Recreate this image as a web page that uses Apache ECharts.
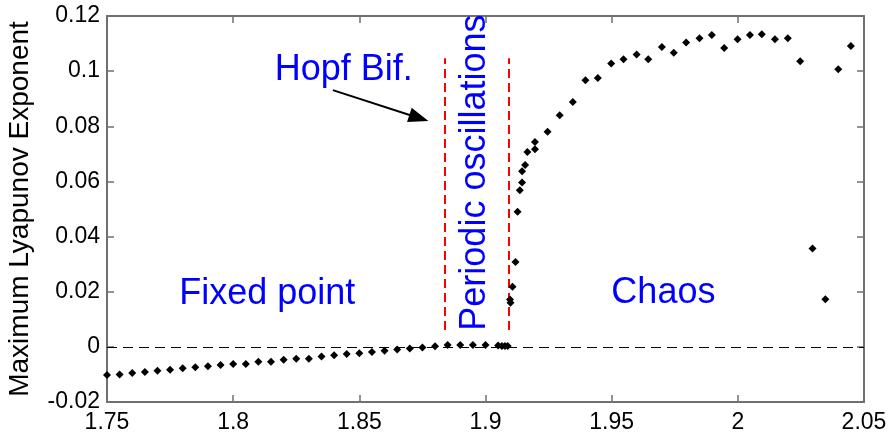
<!DOCTYPE html>
<html>
<head>
<meta charset="utf-8">
<script src="https://cdn.jsdelivr.net/npm/echarts@6/dist/echarts.min.js"></script>
<style>
  html, body { margin: 0; padding: 0; background: #fff; }
  #chart { width: 888px; height: 437px; }
</style>
</head>
<body>
<div id="chart"></div>
<script>
// bifurcation parameter and max Lyapunov exponent
const paramX = [
  1.750, 1.755, 1.760, 1.765, 1.770, 1.775, 1.780, 1.785, 1.790, 1.795,
  1.800, 1.805, 1.810, 1.815, 1.820, 1.825, 1.830, 1.835, 1.840, 1.845,
  1.850, 1.855, 1.860, 1.865, 1.870, 1.875, 1.880, 1.885, 1.890, 1.895,
  1.900, 1.905, 1.9065, 1.9077, 1.9088,
  1.9097, 1.9099, 1.9107, 1.9119, 1.9127, 1.9136, 1.9145, 1.9145, 1.9157, 1.9166,
  1.9196, 1.9196, 1.9246, 1.9294, 1.9346, 1.9396, 1.9445, 1.9498, 1.9547, 1.9599,
  1.9645, 1.9699, 1.9746, 1.9795, 1.9848, 1.9897, 1.9946, 1.9999, 2.0048, 2.0095,
  2.0147, 2.0198, 2.0247, 2.0296, 2.0347, 2.0398, 2.0448
]
const lyapunov = [
  -0.0102, -0.0100, -0.0095, -0.0091, -0.0087, -0.0083, -0.0078, -0.0074, -0.0070, -0.0066,
  -0.0062, -0.0062, -0.0054, -0.0054, -0.0047, -0.0043, -0.0043, -0.0035, -0.0030, -0.0026,
  -0.0023, -0.0019, -0.0014, -0.0010, -0.0006, -0.0002, 0.0002, 0.0007, 0.0007, 0.0007,
  0.0007, 0.0005, 0.0003, 0.0003, 0.0003,
  0.0172, 0.0160, 0.0218, 0.0308, 0.0490, 0.0568, 0.0596, 0.0637, 0.0660, 0.0707,
  0.0717, 0.0743, 0.0780, 0.0840, 0.0888, 0.0967, 0.0975, 0.1028, 0.1043, 0.1060,
  0.1043, 0.1088, 0.1067, 0.1104, 0.1119, 0.1131, 0.1084, 0.1116, 0.1131, 0.1134,
  0.1116, 0.1119, 0.1036, 0.0357, 0.0173, 0.1007, 0.1091
]

// regime boundaries (red dashed) and annotation anchors
const boundaryX = [1.884, 1.9094]
const boundaryY = [0.0061, 0.1047]
const noteText = ['Hopf Bif.', 'Fixed point', 'Chaos', 'Periodic oscillations']
const noteX = [1.8438, 1.8135, 1.9705, 1.8959]
const noteY = [0.1005, 0.0192, 0.0196, 0.0632]
const noteRotate = [0, 0, 0, 90]
const arrowFrom = [1.8395, 0.0931]
const arrowTo = [1.8736, 0.0830]

const FONT = 'Liberation Sans, Arial, sans-serif'
const AXIS_COLOR = '#707070'

const chart = echarts.init(document.getElementById('chart'))

const baseAxis = {
  axisLine: { show: true, onZero: false, lineStyle: { color: AXIS_COLOR, width: 2 } },
  axisTick: { show: true, inside: true, length: 7, lineStyle: { color: AXIS_COLOR, width: 1.5 } },
  splitLine: { show: false }
}

const option = {
  animation: false,
  backgroundColor: '#fff',
  grid: { left: 107, right: 24, top: 16, bottom: 35, outerBoundsMode: 'none', containLabel: false },
  xAxis: [
    {
      ...baseAxis,
      type: 'value', position: 'bottom', min: 1.75, max: 2.05, interval: 0.05,
      axisLabel: { color: '#000', fontSize: 23, fontFamily: FONT, margin: 9 }
    },
    {
      ...baseAxis,
      type: 'value', position: 'top', min: 1.75, max: 2.05, interval: 0.05,
      axisLabel: { show: false }
    }
  ],
  yAxis: [
    {
      ...baseAxis,
      type: 'value', position: 'left', min: -0.02, max: 0.12, interval: 0.02,
      axisLabel: { color: '#000', fontSize: 23, fontFamily: FONT, margin: 7 },
      name: 'Maximum Lyapunov Exponent',
      nameLocation: 'middle',
      nameGap: 73,
      nameTextStyle: { color: '#000', fontSize: 28, fontFamily: FONT }
    },
    {
      ...baseAxis,
      type: 'value', position: 'right', min: -0.02, max: 0.12, interval: 0.02,
      axisLabel: { show: false }
    }
  ],
  series: [
    {
      name: 'lyapunov',
      type: 'scatter',
      symbol: 'diamond',
      symbolSize: 8,
      itemStyle: { color: '#000', opacity: 1 },
      data: paramX.map((x, i) => [x, lyapunov[i]]),
      z: 5,
      markLine: {
        silent: true,
        symbol: 'none',
        label: { show: false },
        data: [
          { yAxis: 0, lineStyle: { color: '#000', width: 1.2, type: [10, 6] } },
          ...boundaryX.map(bx => [
            { coord: [bx, boundaryY[0]], lineStyle: { color: '#ff0000', width: 2, type: [9, 5] } },
            { coord: [bx, boundaryY[1]] }
          ]),
          [
            { coord: arrowFrom, symbol: 'none', lineStyle: { color: '#000', width: 2, type: 'solid' } },
            { coord: arrowTo, symbol: 'triangle', symbolSize: [15, 20] }
          ]
        ]
      }
    },
    {
      name: 'notes',
      type: 'scatter',
      symbolSize: 0,
      silent: true,
      itemStyle: { opacity: 1 },
      data: noteText.map((t, i) => ({
        value: [noteX[i], noteY[i]],
        label: {
          show: true,
          position: 'inside',
          formatter: t,
          rotate: noteRotate[i],
          color: '#0000ff',
          opacity: 1,
          fontSize: 36,
          fontFamily: FONT
        }
      }))
    }
  ]
}

chart.setOption(option)
</script>
</body>
</html>
